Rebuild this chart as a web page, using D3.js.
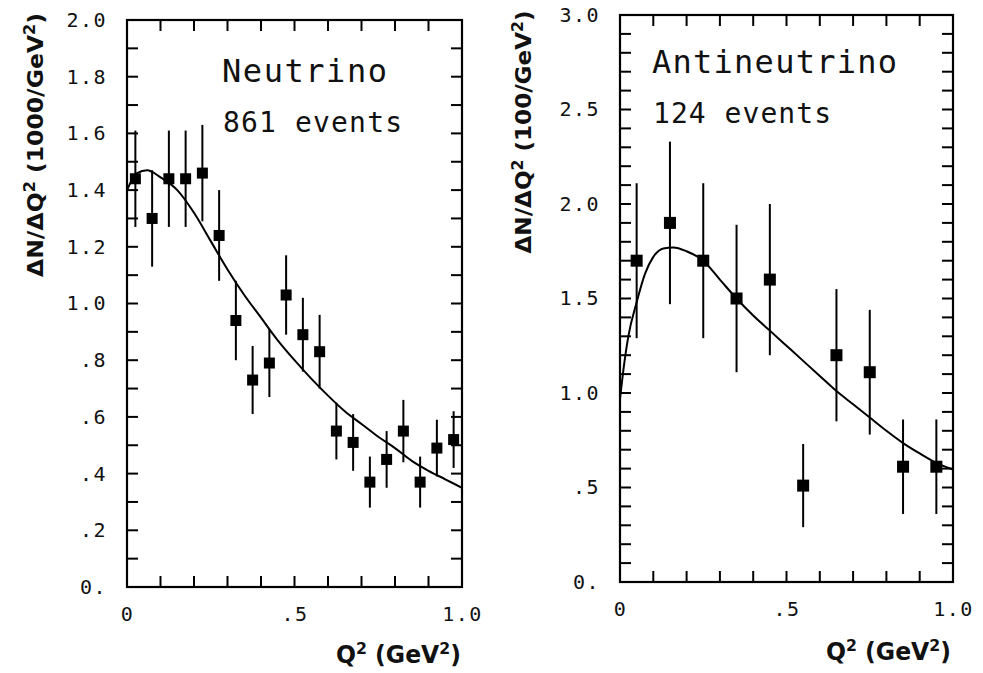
<!DOCTYPE html>
<html>
<head>
<meta charset="utf-8">
<script src="https://cdn.jsdelivr.net/npm/d3@7"></script>
<style>
  body { margin: 0; background: #fff; }
  svg { display: block; }
</style>
</head>
<body>
<div class="chart"></div>
<script>
var w = 983;
var h = 673;

// neutrino panel (per 0.05 GeV^2 bin)
var nuQ2  = [0.025, 0.075, 0.125, 0.175, 0.225, 0.275, 0.325, 0.375, 0.425, 0.475,
             0.525, 0.575, 0.625, 0.675, 0.725, 0.775, 0.825, 0.875, 0.925, 0.975];
var nuVal = [1.44, 1.30, 1.44, 1.44, 1.46, 1.24, 0.94, 0.73, 0.79, 1.03,
             0.89, 0.83, 0.55, 0.51, 0.37, 0.45, 0.55, 0.37, 0.49, 0.52];
var nuErr = [0.17, 0.17, 0.17, 0.17, 0.17, 0.16, 0.14, 0.12, 0.12, 0.14,
             0.13, 0.13, 0.10, 0.10, 0.09, 0.10, 0.11, 0.09, 0.10, 0.10];
var nuCurveQ2 = [0, 0.03, 0.06, 0.10, 0.15, 0.20, 0.25, 0.30, 0.35, 0.40, 0.45, 0.50,
                 0.55, 0.60, 0.65, 0.70, 0.75, 0.80, 0.85, 0.90, 0.95, 1.00];
var nuCurveY  = [1.40, 1.46, 1.47, 1.445, 1.40, 1.32, 1.22, 1.12, 1.03, 0.95, 0.87, 0.80,
                 0.735, 0.675, 0.62, 0.575, 0.53, 0.49, 0.445, 0.41, 0.38, 0.35];
var nuYTicks  = [0, 0.2, 0.4, 0.6, 0.8, 1.0, 1.2, 1.4, 1.6, 1.8, 2.0];
var nuYLabels = ["0.", ".2", ".4", ".6", ".8", "1.0", "1.2", "1.4", "1.6", "1.8", "2.0"];

// antineutrino panel (per 0.1 GeV^2 bin)
var anuQ2  = [0.05, 0.15, 0.25, 0.35, 0.45, 0.55, 0.65, 0.75, 0.85, 0.95];
var anuVal = [1.70, 1.90, 1.70, 1.50, 1.60, 0.51, 1.20, 1.11, 0.61, 0.61];
var anuErr = [0.41, 0.43, 0.41, 0.39, 0.40, 0.22, 0.35, 0.33, 0.25, 0.25];
var anuCurveQ2 = [0, 0.01, 0.025, 0.05, 0.075, 0.10, 0.13, 0.16, 0.20, 0.25, 0.30, 0.35,
                  0.40, 0.45, 0.50, 0.55, 0.60, 0.65, 0.70, 0.75, 0.80, 0.85, 0.90, 0.95, 1.00];
var anuCurveY  = [0.97, 1.12, 1.30, 1.48, 1.63, 1.72, 1.765, 1.77, 1.75, 1.70, 1.60, 1.50,
                  1.41, 1.33, 1.25, 1.17, 1.09, 1.01, 0.94, 0.87, 0.80, 0.735, 0.68, 0.63, 0.595];
var anuYTicks  = [0, 0.5, 1.0, 1.5, 2.0, 2.5, 3.0];
var anuYLabels = ["0.", ".5", "1.0", "1.5", "2.0", "2.5", "3.0"];

var xTicks  = [0, 0.5, 1.0];
var xLabels = ["0", ".5", "1.0"];

var svg = d3.select(".chart")
            .append("svg")
            .attr("width", w)
            .attr("height", h)
            .style("background", "#fff");

var tickFont = "'DejaVu Sans Mono', monospace";
var titleFont = "'DejaVu Sans', sans-serif";
var tickLen = 11;

function drawPanel(p) {
    var x = d3.scaleLinear().domain([0, 1]).range([p.left, p.right]);
    var y = d3.scaleLinear().domain([0, p.ymax]).range([p.bottom, p.top]);
    var g = svg.append("g");

    var minorX = x.ticks(10);
    var minorY = y.ticks(Math.round(p.ymax * 10));

    // inward ticks on all four sides
    var tk = g.append("g").attr("stroke", "#000").attr("stroke-width", 2);
    tk.selectAll(".tb").data(minorX).enter().append("line")
        .attr("x1", function(d) { return x(d); }).attr("x2", function(d) { return x(d); })
        .attr("y1", p.bottom).attr("y2", p.bottom - tickLen);
    tk.selectAll(".tt").data(minorX).enter().append("line")
        .attr("x1", function(d) { return x(d); }).attr("x2", function(d) { return x(d); })
        .attr("y1", p.top).attr("y2", p.top + tickLen);
    tk.selectAll(".tl").data(minorY).enter().append("line")
        .attr("y1", function(d) { return y(d); }).attr("y2", function(d) { return y(d); })
        .attr("x1", p.left).attr("x2", p.left + tickLen);
    tk.selectAll(".tr").data(minorY).enter().append("line")
        .attr("y1", function(d) { return y(d); }).attr("y2", function(d) { return y(d); })
        .attr("x1", p.right).attr("x2", p.right - tickLen);

    // labels
    var yl = g.append("g")
        .attr("transform", "translate(" + p.left + ",0)")
        .call(d3.axisLeft(y).tickValues(p.yTicks).tickSize(0).tickPadding(20)
              .tickFormat(function(d, i) { return p.yLabels[i]; }));
    yl.select(".domain").remove();
    yl.selectAll("text")
        .attr("font-family", tickFont)
        .attr("font-size", 20)
        .attr("letter-spacing", 1.5)
        .attr("fill", "#111");

    var xl = g.append("g")
        .attr("transform", "translate(0," + p.bottom + ")")
        .call(d3.axisBottom(x).tickValues(xTicks).tickSize(0).tickPadding(20)
              .tickFormat(function(d, i) { return xLabels[i]; }));
    xl.select(".domain").remove();
    xl.selectAll("text")
        .attr("font-family", tickFont)
        .attr("font-size", 20)
        .attr("letter-spacing", 1.5)
        .attr("fill", "#111");

    // frame
    g.append("rect")
        .attr("x", p.left).attr("y", p.top)
        .attr("width", p.right - p.left).attr("height", p.bottom - p.top)
        .attr("fill", "none").attr("stroke", "#000").attr("stroke-width", 2.2);

    // theory curve
    var line = d3.line()
        .x(function(d) { return x(d[0]); })
        .y(function(d) { return y(d[1]); })
        .curve(d3.curveMonotoneX);
    g.append("path")
        .datum(d3.zip(p.curveQ2, p.curveY))
        .attr("d", line)
        .attr("fill", "none")
        .attr("stroke", "#000")
        .attr("stroke-width", 2);

    var pts = d3.zip(p.q2, p.val, p.err);

    g.selectAll(".err")
        .data(pts)
        .enter()
        .append("line")
        .attr("x1", function(d) { return x(d[0]); })
        .attr("x2", function(d) { return x(d[0]); })
        .attr("y1", function(d) { return y(d[1] - d[2]); })
        .attr("y2", function(d) { return y(d[1] + d[2]); })
        .attr("stroke", "#000")
        .attr("stroke-width", 2);

    g.selectAll(".pt")
        .data(pts)
        .enter()
        .append("rect")
        .attr("x", function(d) { return x(d[0]) - p.sq / 2; })
        .attr("y", function(d) { return y(d[1]) - p.sq / 2; })
        .attr("width", p.sq)
        .attr("height", p.sq)
        .attr("fill", "#000");

    // in-plot texts
    g.append("text")
        .attr("x", p.titleX).attr("y", p.titleY)
        .attr("font-family", tickFont)
        .attr("font-size", 32)
        .attr("textLength", p.titleLen)
        .attr("fill", "#111")
        .text(p.title);
    g.append("text")
        .attr("x", p.titleX + 1).attr("y", p.titleY + 50)
        .attr("font-family", tickFont)
        .attr("font-size", 28)
        .attr("textLength", p.subLen)
        .attr("fill", "#111")
        .text(p.sub);

    // y axis title
    var yt = g.append("text")
        .attr("transform", "translate(" + p.yTitleX + "," + p.yTitleY + ") rotate(-90)")
        .attr("text-anchor", "middle")
        .attr("font-family", titleFont)
        .attr("font-weight", "bold")
        .attr("font-size", 22)
        .attr("textLength", p.yTitleLen)
        .attr("lengthAdjust", "spacingAndGlyphs")
        .attr("fill", "#111");
    yt.append("tspan").text("ΔN/ΔQ");
    yt.append("tspan").attr("font-size", 15).attr("dy", -8).text("2");
    yt.append("tspan").attr("dy", 8).text(" (" + p.unit + "/GeV");
    yt.append("tspan").attr("font-size", 15).attr("dy", -8).text("2");
    yt.append("tspan").attr("dy", 8).text(")");

    // x axis title
    var xt = g.append("text")
        .attr("x", p.xTitleX).attr("y", p.xTitleY)
        .attr("font-family", titleFont)
        .attr("font-weight", "bold")
        .attr("font-size", 24)
        .attr("textLength", 125)
        .attr("lengthAdjust", "spacingAndGlyphs")
        .attr("fill", "#111");
    xt.append("tspan").text("Q");
    xt.append("tspan").attr("font-size", 16).attr("dy", -9).text("2");
    xt.append("tspan").attr("dy", 9).text(" (GeV");
    xt.append("tspan").attr("font-size", 16).attr("dy", -9).text("2");
    xt.append("tspan").attr("dy", 9).text(")");
}

drawPanel({
    left: 127, right: 462, top: 20, bottom: 587, ymax: 2,
    yTicks: nuYTicks, yLabels: nuYLabels,
    q2: nuQ2, val: nuVal, err: nuErr, curveQ2: nuCurveQ2, curveY: nuCurveY,
    sq: 11,
    title: "Neutrino", titleX: 222, titleY: 82, titleLen: 165,
    sub: "861 events", subLen: 179,
    unit: "1000", yTitleX: 43, yTitleY: 145, yTitleLen: 264,
    xTitleX: 336, xTitleY: 663
});

drawPanel({
    left: 620, right: 953, top: 15, bottom: 582, ymax: 3,
    yTicks: anuYTicks, yLabels: anuYLabels,
    q2: anuQ2, val: anuVal, err: anuErr, curveQ2: anuCurveQ2, curveY: anuCurveY,
    sq: 12,
    title: "Antineutrino", titleX: 652, titleY: 73, titleLen: 245,
    sub: "124 events", subLen: 178,
    unit: "100", yTitleX: 531, yTitleY: 132, yTitleLen: 243,
    xTitleX: 826, xTitleY: 660
});
</script>
</body>
</html>
